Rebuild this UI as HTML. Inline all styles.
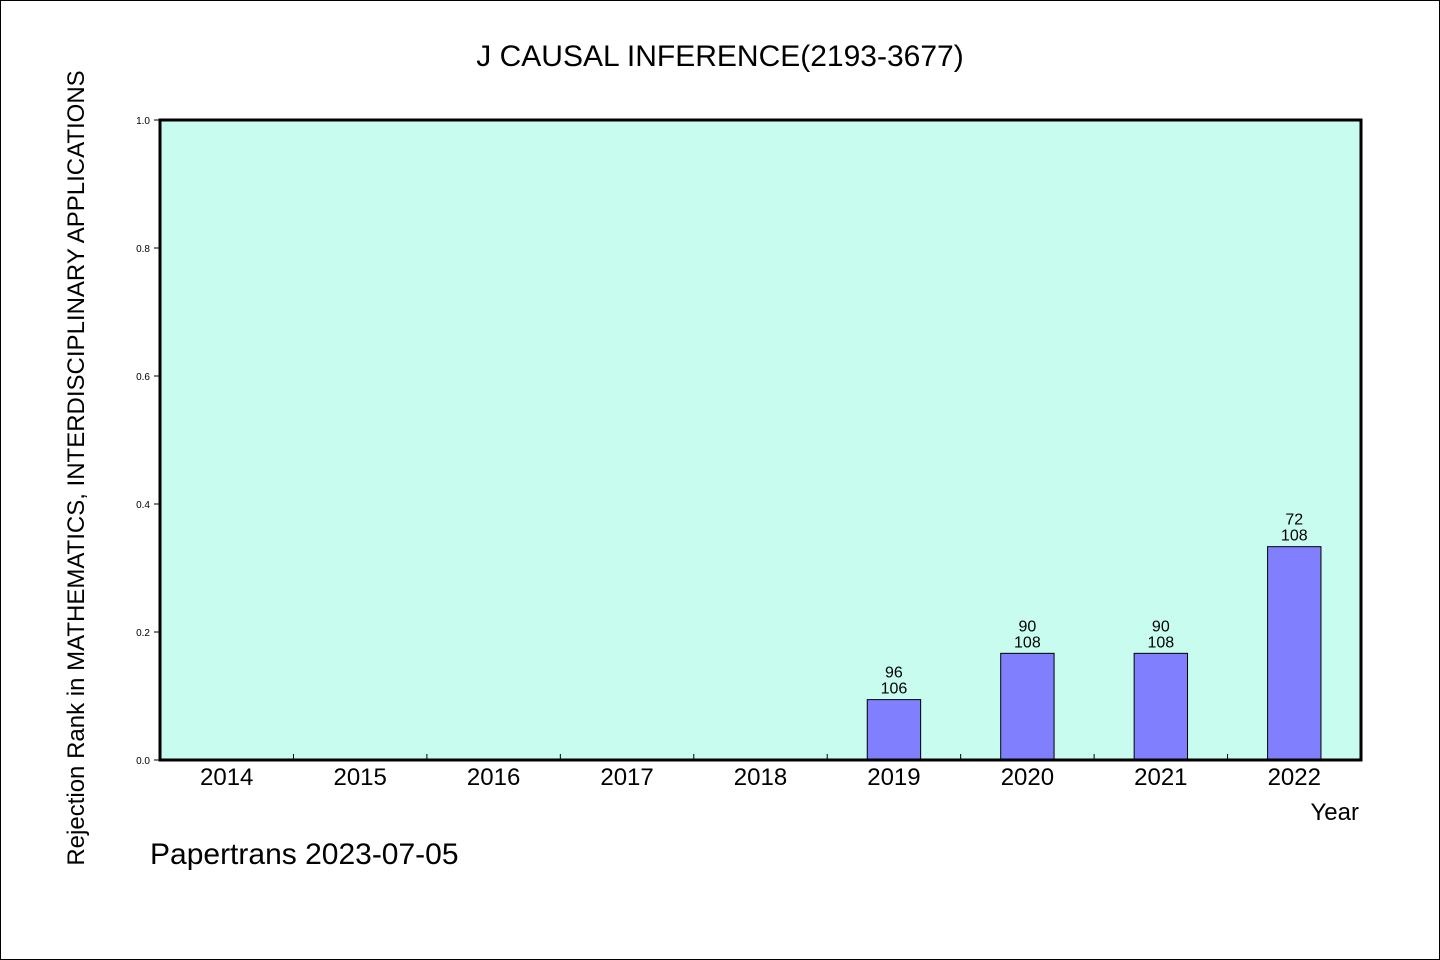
<!DOCTYPE html>
<html><head><meta charset="utf-8"><style>
body{margin:0;background:#fff}
svg{display:block}
text{font-family:"WenQuanYi Zen Hei","Liberation Sans",sans-serif;fill:#000}
</style></head><body>
<svg id="chart" width="1440" height="960" xmlns="http://www.w3.org/2000/svg">
<rect x="0.5" y="0.5" width="1439" height="959" fill="#fff" stroke="#000"/>
<text x="720" y="66" font-size="30" text-anchor="middle">J CAUSAL INFERENCE(2193-3677)</text>
<rect x="160" y="120" width="1201" height="640" fill="#c8fcee"/>
<g id="marks"></g>
<rect x="160" y="120" width="1201" height="640" fill="none" stroke="#000" stroke-width="3"/>
<text transform="translate(84,468) rotate(-90)" font-size="24" text-anchor="middle">Rejection Rank in MATHEMATICS, INTERDISCIPLINARY APPLICATIONS</text>
<text x="1359" y="820" font-size="24" text-anchor="end">Year</text>
<text x="150" y="864" font-size="30">Papertrans 2023-07-05</text>
</svg>
<script>
const categories=["2014","2015","2016","2017","2018","2019","2020","2021","2022"];
const ranks=[null,null,null,null,null,96,90,90,72];
const totals=[null,null,null,null,null,106,108,108,108];
const yTicks=[0,0.2,0.4,0.6,0.8,1.0];
const yTickLabels=["0.0","0.2","0.4","0.6","0.8","1.0"];
const NS="http://www.w3.org/2000/svg";
const L=160,R=1361,T=120,B=760;
const bw=(R-L)/categories.length;
const x=i=>L+bw*i;
const y=v=>B-(B-T)*v;
const g=document.getElementById('marks');
function mk(t,a){const e=document.createElementNS(NS,t);for(const k in a)e.setAttribute(k,a[k]);g.appendChild(e);return e;}
yTicks.forEach((v,i)=>{
 const l=mk('line',{x1:L-6,x2:L,y1:y(v),y2:y(v),stroke:'#000'});
 
 
 const t=mk('text',{x:L-10,y:y(v)+4,'font-size':10,'text-anchor':'end'});
 t.textContent=yTickLabels[i];
 
 
});
categories.forEach((c,i)=>{
 if(i>0){const l=mk('line',{x1:x(i),x2:x(i),y1:B-6,y2:B,stroke:'#000'});
  
  }
 const t=mk('text',{x:x(i)+bw/2,y:B+25,'font-size':24,'text-anchor':'middle'});
 t.textContent=c;
 
 
 if(ranks[i]!=null){
  const v=(totals[i]-ranks[i])/totals[i];
  const w=bw*0.4, cx=x(i)+bw/2;
  const r=mk('rect',{x:cx-w/2,y:y(v),width:w,height:B-y(v),fill:'#8080ff',stroke:'#000','stroke-width':1});
  
  
  const a=mk('text',{x:cx,y:y(v)-22,'font-size':16,'text-anchor':'middle'});
  a.textContent=ranks[i];
  
  
  const b=mk('text',{x:cx,y:y(v)-6,'font-size':16,'text-anchor':'middle'});
  b.textContent=totals[i];
  
  
 }
});
</script>
</body></html>
